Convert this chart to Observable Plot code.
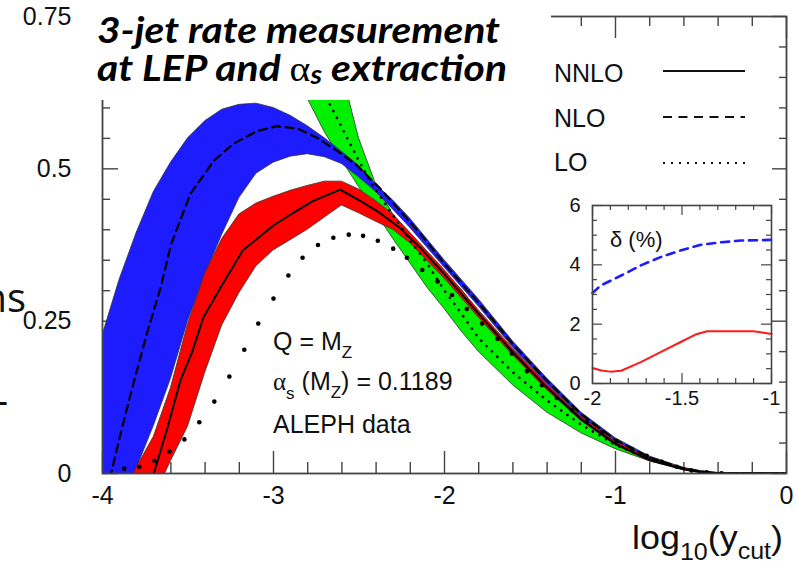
<!DOCTYPE html>
<html><head><meta charset="utf-8">
<script src="https://cdn.jsdelivr.net/npm/d3@7"></script>
<script src="https://cdn.jsdelivr.net/npm/@observablehq/plot@0.6"></script>
<style>
body{margin:0;background:#fff;}
#wrap{position:relative;width:797px;height:567px;overflow:hidden;background:#fff;}
#wrap svg{position:absolute;}
</style></head><body><div id="wrap"></div>
<script>
// ---------------- main chart data ----------------
const ticksXMajor = [-4, -3, -2, -1, 0];
const ticksXLabels = ["-4", "-3", "-2", "-1", "0"];
const ticksXMinor = [-3.8,-3.6,-3.4,-3.2,-2.8,-2.6,-2.4,-2.2,-1.8,-1.6,-1.4,-1.2,-0.8,-0.6,-0.4,-0.2];
const ticksYMajor = [0, 0.25, 0.5, 0.75];
const ticksYLabels = ["0", "0.25", "0.5", "0.75"];
const ticksYMinor = [0.05,0.1,0.15,0.2,0.3,0.35,0.4,0.45,0.55,0.6,0.65,0.7];

// LO band (green)
const loBandX    = [-3.05,-2.9,-2.8,-2.7,-2.6,-2.5,-2.4,-2.3,-2.2,-2.1,-2.0,-1.9,-1.8,-1.6,-1.4,-1.2,-1.0,-0.8,-0.6,-0.5,-0.4,0];
const loBandLow  = [0.75,0.67,0.615,0.56,0.514,0.47,0.427,0.385,0.345,0.305,0.27,0.233,0.2,0.145,0.1,0.066,0.04,0.02,0.007,0.002,0,0];
const loBandHigh = [0.95,0.9,0.83,0.76,0.66,0.55,0.474,0.425,0.39,0.357,0.33,0.302,0.265,0.198,0.14,0.088,0.05,0.024,0.008,0.003,0.0005,0];

// NLO band (blue)
const nloBandX    = [-4.0,-3.9,-3.8,-3.7,-3.6,-3.5,-3.4,-3.3,-3.2,-3.1,-3.0,-2.9,-2.8,-2.7,-2.6,-2.5,-2.4,-2.3,-2.2,-2.0,-1.8,-1.6,-1.4,-1.2,-1.0,-0.8,-0.6,-0.5,-0.4,0];
const nloBandLow  = [-0.13,-0.06,0.008,0.078,0.155,0.25,0.325,0.392,0.452,0.492,0.51,0.52,0.524,0.519,0.508,0.486,0.462,0.433,0.403,0.338,0.274,0.207,0.147,0.093,0.052,0.024,0.007,0.002,0,0];
const nloBandHigh = [0.226,0.318,0.395,0.462,0.51,0.55,0.578,0.597,0.605,0.607,0.60,0.587,0.57,0.55,0.528,0.505,0.474,0.448,0.418,0.35,0.286,0.217,0.156,0.1,0.058,0.028,0.009,0.004,0.001,0];

// NNLO band (red)
const nnloBandX    = [-3.9,-3.8,-3.7,-3.6,-3.5,-3.4,-3.3,-3.2,-3.1,-3.0,-2.9,-2.8,-2.7,-2.6,-2.5,-2.4,-2.3,-2.2,-2.0,-1.8,-1.6,-1.4,-1.2,-1.0,-0.8,-0.6,-0.5,-0.4,0];
const nnloBandLow  = [-0.2,-0.12,-0.04,0.02,0.077,0.165,0.243,0.296,0.34,0.366,0.383,0.40,0.42,0.44,0.427,0.413,0.40,0.378,0.32,0.256,0.194,0.137,0.086,0.046,0.02,0.005,0.001,0,0];
const nnloBandHigh = [-0.05,0.01,0.06,0.14,0.245,0.328,0.385,0.425,0.443,0.454,0.464,0.472,0.479,0.479,0.466,0.447,0.425,0.395,0.334,0.268,0.205,0.146,0.093,0.053,0.025,0.009,0.003,0.0005,0];

// central curves
const nnloX = [-3.72,-3.7,-3.62,-3.545,-3.475,-3.41,-3.31,-3.18,-3.0,-2.9,-2.77,-2.61,-2.49,-2.38,-2.26,-2.14,-2.0,-1.8,-1.6,-1.4,-1.2,-1.0,-0.8,-0.6,-0.5,-0.4,0];
const nnloY = [-0.02,0,0.075,0.152,0.20,0.256,0.305,0.366,0.407,0.425,0.447,0.466,0.447,0.428,0.403,0.37,0.327,0.262,0.199,0.141,0.089,0.049,0.022,0.007,0.002,0,0];
const nloX = [-3.97,-3.95,-3.89,-3.82,-3.74,-3.66,-3.6,-3.486,-3.35,-3.235,-3.095,-2.98,-2.86,-2.745,-2.63,-2.51,-2.38,-2.26,-2.14,-2.0,-1.8,-1.6,-1.4,-1.2,-1.0,-0.8,-0.6,-0.5,-0.4,0];
const nloY = [-0.03,0,0.07,0.147,0.23,0.305,0.375,0.459,0.513,0.541,0.562,0.570,0.566,0.551,0.53,0.505,0.469,0.431,0.393,0.344,0.28,0.212,0.152,0.097,0.055,0.026,0.008,0.003,0.0005,0];
const loX = [-2.85,-2.75,-2.67,-2.59,-2.51,-2.435,-2.36,-2.28,-2.2,-2.1,-2.0,-1.9,-1.8,-1.6,-1.4,-1.2,-1.0,-0.8,-0.6,-0.5,-0.4,0];
const loY = [0.72,0.66,0.606,0.562,0.518,0.48,0.448,0.415,0.382,0.344,0.30,0.262,0.222,0.166,0.12,0.08,0.047,0.023,0.008,0.003,0,0];

// ALEPH data
const alephX = [-3.872,-3.784,-3.696,-3.609,-3.521,-3.434,-3.346,-3.258,-3.171,-3.089,-3.0,-2.913,-2.83,-2.74,-2.65,-2.56,-2.476,-2.39,-2.30,-2.22,-2.13,-2.04,-1.956,-1.87,-1.78,-1.69,-1.606,-1.518,-1.43,-1.343,-1.255,-1.168,-1.08,-0.993,-0.905,-0.818,-0.73,-0.642,-0.555,-0.467,-0.38];
const alephY = [0.008,0.011,0.021,0.036,0.056,0.084,0.118,0.159,0.203,0.246,0.287,0.325,0.354,0.375,0.387,0.392,0.390,0.382,0.369,0.354,0.334,0.315,0.293,0.270,0.246,0.221,0.197,0.168,0.145,0.124,0.104,0.085,0.068,0.053,0.04,0.029,0.019,0.011,0.005,0.002,0.0005];

// ---------------- inset data ----------------
const insetTicksXMajor = [-2, -1.5, -1];
const insetTicksXLabels = ["-2", "-1.5", "-1"];
const insetTicksXMinor = [-1.9,-1.8,-1.7,-1.6,-1.4,-1.3,-1.2,-1.1];
const insetTicksYMajor = [0, 2, 4, 6];
const insetTicksYLabels = ["0", "2", "4", "6"];
const insetTicksYMinor = [0.5,1,1.5,2.5,3,3.5,4.5,5,5.5];
const insetNloX = [-2,-1.955,-1.84,-1.73,-1.62,-1.51,-1.40,-1.28,-1.17,-1.0];
const insetNloY = [3.05,3.3,3.64,3.98,4.26,4.48,4.67,4.76,4.82,4.84];
const insetNnloX = [-2,-1.95,-1.9,-1.84,-1.73,-1.62,-1.51,-1.425,-1.36,-1.2,-1.1,-1.0];
const insetNnloY = [0.52,0.44,0.40,0.43,0.72,1.06,1.39,1.65,1.76,1.76,1.76,1.67];

// ---------------- build ----------------
const zip2 = (xs, a, b) => xs.map((x, i) => ({x, lo: a[i], hi: b[i]}));
const zip = (xs, ys) => xs.map((x, i) => ({x, y: ys[i]}));

const W = 797, H = 567, mL = 102, mR = 11, mT = 16, mB = 94;
const ypx = 0.75 / (H - mT - mB);
const xpx = 4 / (W - mL - mR);
const axisColor = "#444";
const font = "Liberation Sans, Arial, Helvetica, sans-serif";

const main = Plot.plot({
  width: W, height: H, marginLeft: mL, marginRight: mR, marginTop: mT, marginBottom: mB,
  x: {domain: [-4, 0]}, y: {domain: [0, 0.75]},
  style: {fontFamily: font, color: "#111", background: "white", overflow: "visible"},
  marks: [
    Plot.ruleX(ticksXMinor, {x: d => d, y1: 0, y2: 11 * ypx, stroke: axisColor, strokeWidth: 1.4}),
    Plot.ruleX(ticksXMajor, {x: d => d, y1: 0, y2: 22 * ypx, stroke: axisColor, strokeWidth: 1.4}),
    Plot.ruleX(ticksXMinor, {x: d => d, y1: 0.75, y2: 0.75 - 10 * ypx, stroke: axisColor, strokeWidth: 1.4}),
    Plot.ruleX(ticksXMajor, {x: d => d, y1: 0.75, y2: 0.75 - 22 * ypx, stroke: axisColor, strokeWidth: 1.4}),
    Plot.ruleY(ticksYMinor, {y: d => d, x1: -4, x2: -4 + 8 * xpx, stroke: axisColor, strokeWidth: 1.4}),
    Plot.ruleY(ticksYMajor, {y: d => d, x1: -4, x2: -4 + 16 * xpx, stroke: axisColor, strokeWidth: 1.4}),
    Plot.ruleY(ticksYMinor, {y: d => d, x1: 0, x2: -7 * xpx, stroke: axisColor, strokeWidth: 1.4}),
    Plot.ruleY(ticksYMajor, {y: d => d, x1: 0, x2: -14 * xpx, stroke: axisColor, strokeWidth: 1.4}),
    Plot.areaY(zip2(loBandX, loBandLow, loBandHigh), {x: "x", y1: "lo", y2: "hi", fill: "#00f000", stroke: "#333", strokeWidth: 0.8, clip: true}),
    Plot.areaY(zip2(nloBandX, nloBandLow, nloBandHigh), {x: "x", y1: "lo", y2: "hi", fill: "#1c1cff", stroke: "#333", strokeWidth: 0.8, clip: true}),
    Plot.areaY(zip2(nnloBandX, nnloBandLow, nnloBandHigh), {x: "x", y1: "lo", y2: "hi", fill: "#ff0000", stroke: "#333", strokeWidth: 0.8, clip: true}),
    Plot.line(zip(loX, loY), {x: "x", y: "y", stroke: "black", strokeWidth: 2.6, strokeDasharray: "0.1,7.5", strokeLinecap: "round", clip: true}),
    Plot.line(zip(nloX, nloY), {x: "x", y: "y", stroke: "black", strokeWidth: 2.2, strokeDasharray: "8,5.5", clip: true}),
    Plot.line(zip(nnloX, nnloY), {x: "x", y: "y", stroke: "black", strokeWidth: 2, clip: true}),
    Plot.dot(zip(alephX, alephY), {x: "x", y: "y", r: 2.3, fill: "black", stroke: "none", clip: true}),
    Plot.frame({stroke: axisColor, strokeWidth: 1.8}),
    Plot.axisX(ticksXMajor, {tickSize: 0, tickPadding: 13, fontSize: 25, label: null,
      tickFormat: d => ticksXLabels[ticksXMajor.indexOf(d)]}),
    Plot.axisY(ticksYMajor, {tickSize: 0, tickPadding: 31, fontSize: 25, label: null,
      tickFormat: d => ticksYLabels[ticksYMajor.indexOf(d)]})
  ]
});

// inset
const iL = 40, iR = 16, iT = 10, iB = 32, iW = 179, iH = 178;
const ixpx = 1 / iW, iypx = 6 / iH;
const inset = Plot.plot({
  width: iL + iW + iR, height: iT + iH + iB, marginLeft: iL, marginRight: iR, marginTop: iT, marginBottom: iB,
  x: {domain: [-2, -1]}, y: {domain: [0, 6]},
  style: {fontFamily: font, color: "#111", background: "transparent", overflow: "visible"},
  marks: [
    Plot.frame({fill: "white", stroke: "none"}),
    Plot.ruleX(insetTicksXMinor, {x: d => d, y1: 0, y2: 5 * iypx, stroke: axisColor, strokeWidth: 1.2}),
    Plot.ruleX(insetTicksXMajor, {x: d => d, y1: 0, y2: 10 * iypx, stroke: axisColor, strokeWidth: 1.2}),
    Plot.ruleX(insetTicksXMinor, {x: d => d, y1: 6, y2: 6 - 5 * iypx, stroke: axisColor, strokeWidth: 1.2}),
    Plot.ruleX(insetTicksXMajor, {x: d => d, y1: 6, y2: 6 - 10 * iypx, stroke: axisColor, strokeWidth: 1.2}),
    Plot.ruleY(insetTicksYMinor, {y: d => d, x1: -2, x2: -2 + 5 * ixpx, stroke: axisColor, strokeWidth: 1.2}),
    Plot.ruleY(insetTicksYMajor, {y: d => d, x1: -2, x2: -2 + 10 * ixpx, stroke: axisColor, strokeWidth: 1.2}),
    Plot.ruleY(insetTicksYMinor, {y: d => d, x1: -1, x2: -1 - 5 * ixpx, stroke: axisColor, strokeWidth: 1.2}),
    Plot.ruleY(insetTicksYMajor, {y: d => d, x1: -1, x2: -1 - 10 * ixpx, stroke: axisColor, strokeWidth: 1.2}),
    Plot.line(zip(insetNloX, insetNloY), {x: "x", y: "y", stroke: "#1c1cff", strokeWidth: 2.6, strokeDasharray: "8,6"}),
    Plot.line(zip(insetNnloX, insetNnloY), {x: "x", y: "y", stroke: "#ff1a1a", strokeWidth: 2}),
    Plot.frame({stroke: axisColor, strokeWidth: 1.6}),
    Plot.axisX(insetTicksXMajor, {tickSize: 0, tickPadding: 7, fontSize: 20, label: null,
      tickFormat: d => insetTicksXLabels[insetTicksXMajor.indexOf(d)]}),
    Plot.axisY(insetTicksYMajor, {tickSize: 0, tickPadding: 12, fontSize: 20, label: null,
      tickFormat: d => insetTicksYLabels[insetTicksYMajor.indexOf(d)]})
  ]
});

const wrap = document.getElementById("wrap");
main.style.left = "0px"; main.style.top = "0px";
wrap.appendChild(main);
inset.style.left = (592 - iL) + "px"; inset.style.top = (205 - iT) + "px";
wrap.appendChild(inset);

// overlay: title box, texts, legend
const ov = d3.create("svg").attr("width", W).attr("height", H)
  .style("left", "0px").style("top", "0px").style("overflow", "visible");
ov.append("rect").attr("x", 90).attr("y", 0).attr("width", 461).attr("height", 100).attr("fill", "white");

const tfont = "Lato, 'Open Sans', sans-serif";
ov.append("text").attr("x", 97).attr("y", 43)
  .attr("font-family", tfont).attr("font-weight", 700).attr("font-style", "italic").attr("font-size", 37)
  .attr("textLength", 403).attr("lengthAdjust", "spacingAndGlyphs").attr("fill", "#000")
  .text("3-jet rate measurement");
const t2 = ov.append("text").attr("x", 97).attr("y", 81)
  .attr("font-family", tfont).attr("font-weight", 700).attr("font-style", "italic").attr("font-size", 37)
  .attr("textLength", 410).attr("lengthAdjust", "spacingAndGlyphs").attr("fill", "#000");
t2.append("tspan").text("at LEP and ");
t2.append("tspan").attr("font-family", "Liberation Serif, DejaVu Serif, serif").attr("font-weight", 400).attr("font-style", "normal").attr("font-size", 36).text("α");
t2.append("tspan").attr("font-size", 26).attr("dy", 3).text("s");
t2.append("tspan").attr("dy", -3).text(" extraction");

// legend
const legFont = font;
const legend = [["NNLO", 82, 71, null], ["NLO", 127, 117, "9,6.5"], ["LO", 171, 163, "2,6"]];
legend.forEach(([lab, by, ly, dash]) => {
  ov.append("text").attr("x", 554).attr("y", by).attr("font-family", legFont).attr("font-size", 25).attr("fill", "#111").text(lab);
  const l = ov.append("line").attr("x1", 663).attr("x2", 745).attr("y1", ly).attr("y2", ly)
    .attr("stroke", "#111").attr("stroke-width", lab === "LO" ? 2 : 2.2);
  if (dash) l.attr("stroke-dasharray", dash);
});

// annotations
const ann = (y) => ov.append("text").attr("x", 273).attr("y", y).attr("font-family", font).attr("font-size", 25).attr("fill", "#111");
const a1 = ann(350); a1.append("tspan").text("Q = M"); a1.append("tspan").attr("font-size", 17).attr("dy", 8).text("Z");
const a2 = ann(390);
a2.append("tspan").attr("font-family", "Liberation Serif, serif").text("α");
a2.append("tspan").attr("font-size", 17).attr("dy", 9).text("s");
a2.append("tspan").attr("dy", -9).text(" (M");
a2.append("tspan").attr("font-size", 17).attr("dy", 8).text("Z");
a2.append("tspan").attr("dy", -8).text(") = 0.1189");
ann(433).text("ALEPH data");

// inset label
ov.append("text").attr("x", 610).attr("y", 247).attr("font-family", font).attr("font-size", 22).attr("fill", "#111").text("δ (%)");

// axis title
const xt = ov.append("text").attr("x", 632).attr("y", 549).attr("font-family", font).attr("font-size", 33).attr("fill", "#111")
  .attr("textLength", 151).attr("lengthAdjust", "spacingAndGlyphs");
xt.append("tspan").text("log");
xt.append("tspan").attr("font-size", 23).attr("dy", 11).text("10");
xt.append("tspan").attr("dy", -11).text("(y");
xt.append("tspan").attr("font-size", 23).attr("dy", 10).text("cut");
xt.append("tspan").attr("dy", -10).text(")");

// fragments at the left edge
ov.append("text").attr("x", 26).attr("y", 312).attr("text-anchor", "end").attr("font-family", "'Open Sans', sans-serif").attr("font-size", 40).attr("fill", "#111").text("ns");
ov.append("text").attr("x", 8).attr("y", 414).attr("text-anchor", "end").attr("font-family", "'Open Sans', sans-serif").attr("font-size", 40).attr("fill", "#111").text("-");

wrap.appendChild(ov.node());
</script>
</body></html>
